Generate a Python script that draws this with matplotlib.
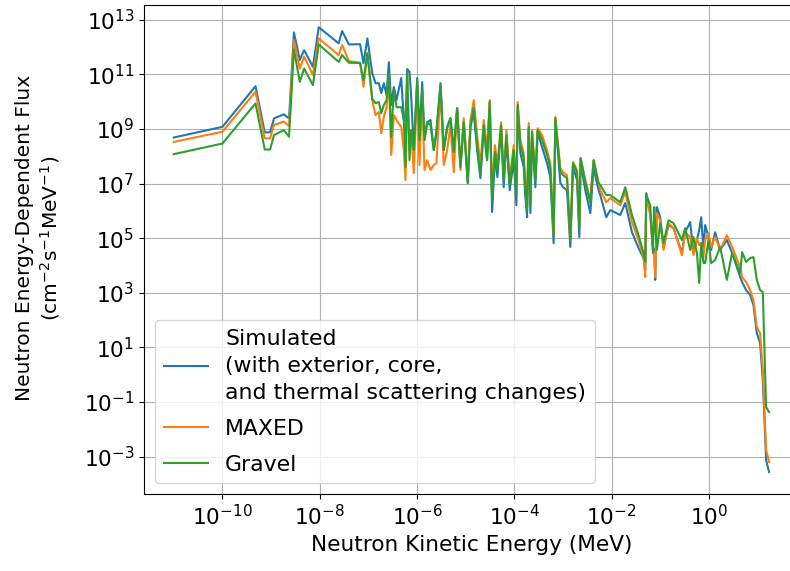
import numpy as np
import matplotlib
matplotlib.use('Agg')
import matplotlib.pyplot as plt

plt.rcParams['font.size'] = 15.6

# energies, as log10(E / MeV)
log_energy = [
    -11.0, -10.0, -9.32, -9.13, -9.02, -8.94, -8.74, -8.63, -8.53, -8.41,
    -8.32, -8.14, -8.02, -7.61, -7.54, -7.40, -7.17, -7.10, -7.02, -6.92,
    -6.852, -6.784, -6.735, -6.682, -6.626, -6.579, -6.530, -6.476, -6.421, -6.324,
    -6.271, -6.236, -6.201, -6.154, -6.119, -6.066, -5.996, -5.949, -5.893, -5.846,
    -5.791, -5.723, -5.655, -5.600, -5.517, -5.450, -5.380, -5.312, -5.244, -5.175,
    -5.107, -5.039, -4.957, -4.901, -4.834, -4.764, -4.696, -4.628, -4.559, -4.505,
    -4.456, -4.398, -4.347, -4.271, -4.218, -4.162, -4.094, -4.012, -3.957, -3.930,
    -3.875, -3.807, -3.772, -3.737, -3.704, -3.669, -3.635, -3.567, -3.520, -3.429,
    -3.327, -3.259, -3.191, -3.156, -3.053, -2.998, -2.916, -2.848, -2.793, -2.710,
    -2.663, -2.637, -2.540, -2.437, -2.370, -2.267, -2.232, -2.109, -2.027, -1.821,
    -1.719, -1.581, -1.446, -1.343, -1.308, -1.287, -1.205, -1.150, -1.123, -1.103,
    -1.068, -1.000, -0.932, -0.830, -0.727, -0.554, -0.487, -0.384, -0.316, -0.246,
    -0.199, -0.158, -0.111, -0.076, -0.008, 0.047, 0.129, 0.232, 0.370, 0.478,
    0.643, 0.684, 0.766, 0.848, 0.916, 0.986, 1.053, 1.109, 1.177, 1.238,
]

# log10 of flux (cm^-2 s^-1 MeV^-1)
log_simulated = [
    8.69, 9.08, 10.57, 8.88, 8.88, 9.39, 9.54, 9.39, 12.54, 11.53,
    11.89, 11.28, 12.73, 12.14, 12.59, 12.10, 12.11, 11.41, 12.32, 11.05,
    10.68, 10.68, 10.32, 10.68, 10.24, 11.45, 9.88, 10.54, 10.06, 10.87,
    9.33, 9.33, 11.20, 11.09, 10.17, 8.23, 10.87, 8.85, 10.72, 8.60,
    9.25, 9.33, 8.23, 8.85, 10.68, 8.23, 9.07, 9.40, 8.23, 9.77,
    7.61, 9.25, 7.02, 9.07, 9.62, 8.23, 7.20, 9.07, 7.86, 9.95,
    5.96, 7.97, 7.24, 9.07, 6.87, 8.67, 6.76, 7.86, 6.21, 9.80,
    8.12, 7.61, 6.51, 5.77, 8.96, 5.92, 8.78, 6.87, 8.89, 8.34,
    7.75, 7.24, 4.82, 9.33, 7.02, 6.87, 6.76, 4.68, 7.61, 7.13,
    5.04, 7.79, 6.76, 5.92, 7.57, 6.76, 6.58, 5.77, 6.03, 5.85,
    6.29, 5.22, 4.64, 4.27, 3.83, 6.65, 5.92, 4.68, 4.57, 3.47,
    6.14, 5.77, 4.68, 5.48, 5.37, 4.46, 5.22, 5.59, 4.46, 4.93,
    5.30, 5.77, 4.57, 5.48, 5.04, 4.57, 5.22, 4.57, 4.93, 4.46,
    3.58, 3.39, 3.10, 2.92, 2.55, 1.52, 1.16, -0.20, -3.13, -3.57,
]

log_maxed = [
    8.53, 8.90, 10.37, 8.66, 8.66, 9.15, 9.27, 9.11, 12.26, 11.22,
    11.65, 10.98, 12.32, 11.71, 12.08, 11.49, 11.43, 10.55, 11.77, 10.06,
    9.51, 9.62, 8.85, 9.44, 9.80, 10.90, 8.05, 9.51, 9.33, 9.07,
    8.23, 7.13, 10.95, 8.23, 8.96, 7.39, 10.60, 7.68, 10.30, 7.50,
    7.86, 7.50, 7.68, 7.75, 10.50, 7.68, 8.23, 9.14, 7.42, 9.77,
    7.50, 9.40, 7.20, 9.33, 10.06, 8.78, 7.68, 9.33, 8.23, 10.06,
    6.58, 8.41, 7.68, 9.25, 7.31, 8.96, 7.13, 8.41, 6.76, 9.99,
    8.60, 8.12, 6.95, 6.21, 9.22, 6.40, 8.96, 7.31, 9.03, 8.78,
    8.23, 7.75, 5.11, 9.44, 7.57, 7.42, 7.31, 4.93, 7.79, 7.50,
    5.48, 7.94, 7.13, 6.40, 7.86, 7.02, 6.76, 6.32, 6.47, 6.21,
    6.69, 5.59, 4.93, 4.31, 3.58, 6.51, 5.85, 4.57, 4.38, 3.58,
    5.92, 5.66, 4.57, 5.55, 5.37, 4.38, 5.22, 5.04, 4.38, 5.00,
    4.75, 4.82, 4.31, 4.93, 5.19, 4.68, 5.04, 4.57, 5.11, 4.68,
    3.94, 3.58, 3.39, 3.10, 2.73, 1.74, 1.52, 0.17, -2.76, -3.20,
]

log_gravel = [
    8.08, 8.47, 9.94, 8.25, 8.25, 8.78, 8.96, 8.72, 11.92, 10.73,
    11.22, 10.61, 12.10, 11.46, 11.71, 11.43, 11.42, 10.79, 11.78, 10.10,
    9.95, 9.99, 9.58, 9.88, 10.06, 11.05, 8.70, 10.43, 9.80, 9.80,
    9.33, 7.61, 11.09, 7.86, 8.96, 8.23, 10.79, 8.60, 10.43, 8.60,
    9.25, 9.14, 8.23, 8.96, 10.61, 8.23, 9.03, 9.40, 8.16, 9.77,
    7.61, 9.25, 7.02, 9.14, 9.77, 8.41, 7.31, 9.14, 7.86, 9.99,
    6.40, 8.16, 7.50, 9.14, 7.13, 8.78, 6.95, 8.23, 6.58, 9.88,
    8.41, 7.94, 6.76, 6.03, 9.07, 6.21, 8.89, 7.13, 8.96, 8.60,
    8.05, 7.57, 5.11, 9.40, 7.42, 7.31, 7.20, 4.93, 7.75, 7.42,
    5.37, 7.94, 7.06, 6.29, 7.86, 7.02, 6.95, 6.58, 6.58, 6.32,
    6.87, 5.85, 5.11, 4.46, 4.13, 6.58, 6.21, 4.46, 6.14, 5.48,
    4.57, 5.55, 4.82, 5.66, 5.55, 4.93, 5.37, 4.57, 5.04, 4.46,
    3.36, 4.82, 4.09, 4.09, 4.93, 4.09, 4.20, 4.68, 3.47, 4.46,
    3.72, 4.49, 4.13, 4.27, 4.31, 3.47, 3.10, 3.03, -1.19, -1.37,
]

sim_label = 'Simulated\n(with exterior, core,\nand thermal scattering changes)'

energy = 10.0 ** np.array(log_energy)

fig = plt.figure(figsize=(7.9, 5.71), dpi=100)
ax = fig.add_axes([0.1823, 0.1343, 0.8289, 0.8569])

ax.plot(energy, 10.0 ** np.array(log_simulated), label=sim_label)
ax.plot(energy, 10.0 ** np.array(log_maxed), label='MAXED')
ax.plot(energy, 10.0 ** np.array(log_gravel), label='Gravel')

ax.set_xscale('log')
ax.set_yscale('log')
ax.set_xlabel('Neutron Kinetic Energy (MeV)')
ax.set_ylabel('Neutron Energy-Dependent Flux\n(cm$^{-2}$s$^{-1}$MeV$^{-1}$)',
              fontsize=14.5)
ax.yaxis.set_label_coords(-0.126, 0.524)
ax.grid()
leg = ax.legend(loc='lower left', labelspacing=0.72, fontsize=15.8)
for t in leg.get_texts():
    t.set_linespacing(1.45)

fig.savefig('out.png', dpi=100)
